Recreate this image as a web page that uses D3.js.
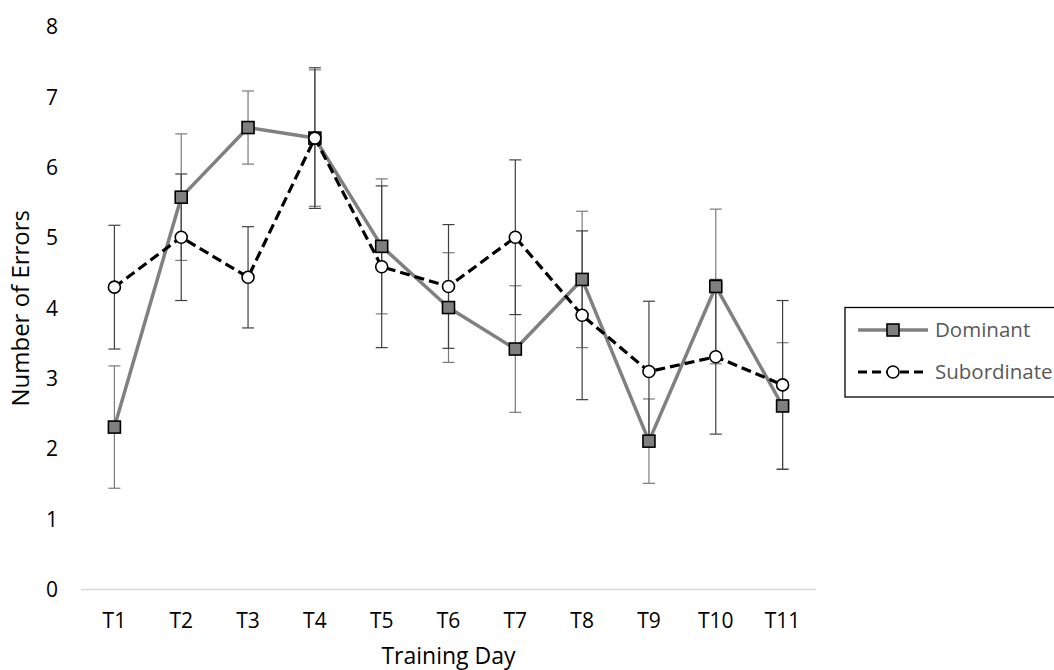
<!DOCTYPE html>
<html>
<head>
<meta charset="utf-8">
<script src="https://cdn.jsdelivr.net/npm/d3@7"></script>
<style>
  html, body { margin: 0; padding: 0; background: #fff; overflow: hidden; }
  svg { display: block; font-family: "Open Sans", "Noto Sans", sans-serif; }
</style>
</head>
<body>
<svg id="chart" width="1054" height="670"></svg>
<script>
const categories = ["T1", "T2", "T3", "T4", "T5", "T6", "T7", "T8", "T9", "T10", "T11"];
const dominant = [2.31, 5.58, 6.57, 6.42, 4.88, 4.01, 3.42, 4.41, 2.11, 4.31, 2.61];
const dominantErr = [0.87, 0.9, 0.52, 0.97, 0.96, 0.78, 0.9, 0.97, 0.6, 1.1, 0.9];
const subordinate = [4.30, 5.01, 4.44, 6.42, 4.59, 4.31, 5.01, 3.90, 3.10, 3.31, 2.91];
const subordinateErr = [0.88, 0.9, 0.72, 1.0, 1.15, 0.88, 1.1, 1.2, 1.0, 1.1, 1.2];
const yTicks = [0, 1, 2, 3, 4, 5, 6, 7, 8];
const seriesNames = ["Dominant", "Subordinate"];

(function () {
const svg = d3.select("#chart");
const pLeft = 81, pRight = 816, pTop = 27, pBottom = 589.5;

const x = d3.scaleBand().domain(categories).range([pLeft, pRight]);
const y = d3.scaleLinear().domain([0, 8]).range([pBottom, pTop]);
const cx = d => x(d) + x.bandwidth() / 2;

// x axis line
svg.append("line")
  .attr("x1", pLeft).attr("x2", pRight)
  .attr("y1", pBottom).attr("y2", pBottom)
  .attr("stroke", "#d9d9d9").attr("stroke-width", 1.5);

// y tick labels
svg.append("g").selectAll("text").data(yTicks).join("text")
  .attr("x", 52).attr("y", d => y(d))
  .attr("dy", "0.35em")
  .attr("text-anchor", "middle")
  .attr("font-size", 21).attr("fill", "#000")
  .text(d => d);

// x tick labels
svg.append("g").selectAll("text").data(categories).join("text")
  .attr("x", d => cx(d)).attr("y", 621)
  .attr("dy", "0.35em")
  .attr("text-anchor", "middle")
  .attr("font-size", 21).attr("fill", "#000")
  .text(d => d);

// axis titles
svg.append("text")
  .attr("x", (pLeft + pRight) / 2).attr("y", 656)
  .attr("dy", "0.35em").attr("text-anchor", "middle")
  .attr("font-size", 23).attr("fill", "#000")
  .text("Training Day");
svg.append("text")
  .attr("transform", `translate(21, ${(pTop + pBottom) / 2}) rotate(-90)`)
  .attr("dy", "0.35em").attr("text-anchor", "middle")
  .attr("font-size", 24).attr("fill", "#000")
  .text("Number of Errors");

// error bars
function errBars(vals, errs, color) {
  const g = svg.append("g").attr("stroke", color).attr("stroke-width", 1.2).attr("fill", "none");
  categories.forEach((c, i) => {
    const hi = y(vals[i] + errs[i]), lo = y(vals[i] - errs[i]);
    const xc = cx(c);
    g.append("line").attr("x1", xc).attr("x2", xc).attr("y1", hi).attr("y2", lo);
    g.append("line").attr("x1", xc - 6).attr("x2", xc + 6).attr("y1", hi).attr("y2", hi);
    g.append("line").attr("x1", xc - 6).attr("x2", xc + 6).attr("y1", lo).attr("y2", lo);
  });
}
errBars(dominant, dominantErr, "#7a7a7a");
errBars(subordinate, subordinateErr, "#404040");

const line = d3.line().x((d, i) => cx(categories[i])).y(d => y(d));

// dominant
svg.append("path").datum(dominant)
  .attr("d", line).attr("fill", "none")
  .attr("stroke", "#808080").attr("stroke-width", 3.5).attr("stroke-linejoin", "round");
svg.append("g").selectAll("rect").data(dominant).join("rect")
  .attr("x", (d, i) => cx(categories[i]) - 6).attr("y", d => y(d) - 6)
  .attr("width", 12).attr("height", 12)
  .attr("fill", "#7f7f7f").attr("stroke", "#000").attr("stroke-width", 1.6);

// subordinate
svg.append("path").datum(subordinate)
  .attr("d", line).attr("fill", "none")
  .attr("stroke", "#000").attr("stroke-width", 3.2)
  .attr("stroke-dasharray", "10,5");
svg.append("g").selectAll("circle").data(subordinate).join("circle")
  .attr("cx", (d, i) => cx(categories[i])).attr("cy", d => y(d))
  .attr("r", 6).attr("fill", "#fff").attr("stroke", "#000").attr("stroke-width", 1.6);

// legend
const lg = svg.append("g");
lg.append("rect").attr("x", 845).attr("y", 307.5).attr("width", 300).attr("height", 89.5)
  .attr("fill", "#fff").attr("stroke", "#000").attr("stroke-width", 1.3);
const ly = [330, 372];
lg.append("line").attr("x1", 858).attr("x2", 928).attr("y1", ly[0]).attr("y2", ly[0])
  .attr("stroke", "#808080").attr("stroke-width", 3.5);
lg.append("rect").attr("x", 887).attr("y", ly[0] - 6).attr("width", 12).attr("height", 12)
  .attr("fill", "#7f7f7f").attr("stroke", "#000").attr("stroke-width", 1.6);
lg.append("line").attr("x1", 858).attr("x2", 928).attr("y1", ly[1]).attr("y2", ly[1])
  .attr("stroke", "#000").attr("stroke-width", 3.2).attr("stroke-dasharray", "9,5");
lg.append("circle").attr("cx", 893).attr("cy", ly[1]).attr("r", 6)
  .attr("fill", "#fff").attr("stroke", "#000").attr("stroke-width", 1.6);
lg.selectAll("text.leg").data(seriesNames).join("text")
  .attr("class", "leg")
  .attr("x", 935).attr("y", (d, i) => ly[i])
  .attr("dy", "0.35em").attr("font-size", 20.5).attr("fill", "#595959")
  .text(d => d);
})();
</script>
</body>
</html>
